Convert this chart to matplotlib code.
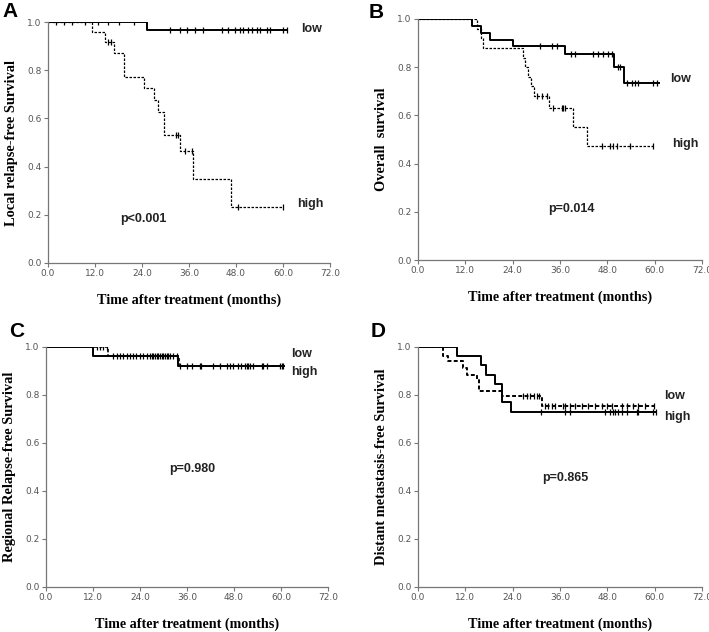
import numpy as np
import matplotlib
matplotlib.use('Agg')
import matplotlib.pyplot as plt

# ---- data ----
# panel A: local relapse-free survival
a_low_t = [0, 25.3]
a_low_s = [1.0, 0.967]
a_low_end = 61.0
a_low_cens = [2.0, 4.0, 6.0, 9.4, 12.8, 15.4, 18.0, 22.0, 31.1, 33.7, 35.4, 37.5, 39.7,
              44.3, 46.0, 47.7, 49.0, 49.9, 51.1, 52.0, 53.3, 54.1, 55.8, 56.7, 60.1, 61.0]
a_high_t = [0, 11.2, 14.6, 16.9, 19.5, 24.5, 27.1, 28.0, 29.7, 33.7, 37.1, 46.6]
a_high_s = [1.0, 0.958, 0.917, 0.870, 0.770, 0.725, 0.676, 0.627, 0.530, 0.465, 0.347, 0.231]
a_high_end = 60.0
a_high_cens = [15.4, 16.0, 32.6, 33.2, 35.0, 36.7, 48.6, 60.0]

# panel B: overall survival
b_low_t = [0, 13.6, 16.0, 18.3, 24.2, 37.3, 49.8, 52.1]
b_low_s = [1.0, 0.971, 0.943, 0.914, 0.886, 0.855, 0.800, 0.735]
b_low_end = 61.0
b_low_cens = [30.9, 33.9, 35.2, 38.8, 39.8, 44.4, 45.7, 46.9, 48.2, 49.1, 50.8, 51.2,
              52.9, 54.2, 55.0, 55.9, 59.7, 60.5]
b_high_t = [0, 14.9, 16.0, 16.6, 26.5, 27.0, 28.0, 28.6, 29.4, 33.2, 39.4, 42.8]
b_high_s = [1.0, 0.96, 0.92, 0.88, 0.84, 0.80, 0.76, 0.72, 0.68, 0.632, 0.553, 0.474]
b_high_end = 60.0
b_high_cens = [30.1, 31.4, 32.6, 34.3, 36.4, 36.8, 37.3, 46.6, 48.7, 49.5, 50.4, 53.8, 59.7]

# panel C: regional relapse-free survival
c_solid_t = [0, 11.9, 33.8]
c_solid_s = [1.0, 0.961, 0.920]
c_solid_end = 60.8
c_solid_cens = [34.2, 35.9, 37.2, 39.3, 39.7, 42.7, 44.4, 46.1, 47.0, 47.8, 49.1, 49.9,
                50.8, 51.2, 51.7, 52.1, 52.9, 55.1, 55.5, 56.3, 59.7, 60.2, 60.6]
c_dot_t = [0, 15.9, 34.0]
c_dot_s = [1.0, 0.963, 0.921]
c_dot_end = 60.8
c_dot_cens = [12.9, 13.8, 14.6, 15.7, 17.2, 18.0, 18.9, 19.7, 20.6, 21.4, 22.3, 23.1,
              24.0, 24.8, 25.7, 26.6, 27.0, 27.4, 27.8, 28.3, 28.7, 29.1, 29.5, 29.9,
              30.4, 30.8, 31.2, 31.7, 32.5, 33.4]

# panel D: distant metastasis-free survival
d_solid_t = [0, 10.0, 15.9, 17.2, 19.5, 21.2, 23.5]
d_solid_s = [1.0, 0.962, 0.923, 0.885, 0.846, 0.770, 0.731]
d_solid_end = 60.3
d_solid_cens = [31.2, 37.3, 38.5, 47.4, 48.7, 49.5, 49.9, 50.8, 51.6, 52.9, 55.4, 55.9,
                59.7, 60.3]
d_dot_t = [0, 6.3, 7.7, 11.5, 12.3, 14.9, 15.4, 21.2, 31.4]
d_dot_s = [1.0, 0.962, 0.941, 0.913, 0.885, 0.863, 0.817, 0.797, 0.755]
d_dot_end = 60.0
d_dot_cens = [26.7, 27.6, 28.4, 29.3, 30.1, 30.8, 32.2, 33.0, 33.9, 34.7, 36.8, 37.3,
              38.5, 39.8, 41.5, 43.2, 44.9, 46.6, 47.8, 49.1, 51.6, 52.9, 54.6, 55.9,
              57.5, 59.8]

x_ticks = [0, 12, 24, 36, 48, 60, 72]
y_ticks = [0.0, 0.2, 0.4, 0.6, 0.8, 1.0]

SERIF = 'Liberation Serif'
SANS = 'Liberation Sans'


def km_curve(ax, t, s, end, cens, ls, lw):
    t = list(t) + [end]
    s = list(s) + [s[-1]]
    ax.step(t, s, where='post', color='black', linestyle=ls, linewidth=lw)
    # censor marks sit on the step value at that time
    idx = np.searchsorted(t, cens, side='right') - 1
    ys = np.array(s)[idx]
    ax.plot(cens, ys, linestyle='none', marker='|', markersize=5,
            markeredgewidth=0.9, color='black')


def style_axes(ax, ylabel):
    ax.set_xlim(0, 72)
    ax.set_ylim(0, 1.0)
    ax.set_xticks(x_ticks)
    ax.set_xticklabels([f'{v:.1f}' for v in x_ticks])
    ax.set_yticks(y_ticks)
    ax.set_yticklabels([f'{v:.1f}' for v in y_ticks])
    for sp in ['top', 'right']:
        ax.spines[sp].set_visible(False)
    for sp in ['left', 'bottom']:
        ax.spines[sp].set_color('#777777')
        ax.spines[sp].set_linewidth(0.9)
    ax.tick_params(axis='both', direction='out', length=3, width=0.8,
                   color='#777777', labelsize=6.5, labelcolor='#555555', pad=1.5)
    ax.set_xlabel('Time after treatment (months)', fontfamily=SERIF,
                  fontweight='bold', fontsize=10.2, labelpad=11)
    ax.set_ylabel(ylabel, fontfamily=SERIF, fontweight='bold', fontsize=10.4,
                  labelpad=6.5)


fig = plt.figure(figsize=(7.09, 6.32), dpi=100)
W, H = 709, 632


def add_axes(x0, x1, ytop, ybot):
    return fig.add_axes([x0 / W, 1 - ybot / H, (x1 - x0) / W, (ybot - ytop) / H])


axA = add_axes(48, 330, 22, 263)
axB = add_axes(418, 702, 19, 260)
axC = add_axes(46, 328, 347, 587)
axD = add_axes(418, 702, 347, 587)

dotted = (0, (2, 1.2))
txt = dict(fontfamily=SANS, fontweight='bold', fontsize=9, color='#222222')

# A
km_curve(axA, a_low_t, a_low_s, a_low_end, a_low_cens, '-', 1.4)
km_curve(axA, a_high_t, a_high_s, a_high_end, a_high_cens, dotted, 0.9)
style_axes(axA, 'Local relapse-free Survival')
axA.text(64.5, 0.97, 'low', va='center', **txt)
axA.text(63.5, 0.245, 'high', va='center', **txt)
axA.text(18.5, 0.183, 'p<0.001', va='center', **txt)

# B
km_curve(axB, b_low_t, b_low_s, b_low_end, b_low_cens, '-', 1.4)
km_curve(axB, b_high_t, b_high_s, b_high_end, b_high_cens, dotted, 0.9)
style_axes(axB, 'Overall  survival')
axB.text(63.8, 0.75, 'low', va='center', **txt)
axB.text(64.5, 0.48, 'high', va='center', **txt)
axB.text(33.0, 0.21, 'p=0.014', va='center', **txt)

# C
km_curve(axC, c_solid_t, c_solid_s, c_solid_end, c_solid_cens, '-', 1.4)
km_curve(axC, c_dot_t, c_dot_s, c_dot_end, c_dot_cens, dotted, 1.2)
style_axes(axC, 'Regional Relapse-free Survival')
axC.text(62.5, 0.97, 'low', va='center', **txt)
axC.text(62.5, 0.895, 'high', va='center', **txt)
axC.text(31.5, 0.49, 'p=0.980', va='center', **txt)

# D
km_curve(axD, d_solid_t, d_solid_s, d_solid_end, d_solid_cens, '-', 1.4)
km_curve(axD, d_dot_t, d_dot_s, d_dot_end, d_dot_cens, dotted, 1.4)
style_axes(axD, 'Distant metastasis-free Survival')
axD.text(62.5, 0.795, 'low', va='center', **txt)
axD.text(62.5, 0.707, 'high', va='center', **txt)
axD.text(31.5, 0.455, 'p=0.865', va='center', **txt)

# panel letters
lab = dict(fontfamily=SANS, fontweight='bold', fontsize=15, va='top', ha='left')
fig.text(2 / W, 1 - 2 / H, 'A', **lab)
fig.text(369 / W, 1 - 3 / H, 'B', **lab)
fig.text(9 / W, 1 - 322 / H, 'C', **lab)
fig.text(371 / W, 1 - 322 / H, 'D', **lab)

fig.savefig('out.png', dpi=100)
